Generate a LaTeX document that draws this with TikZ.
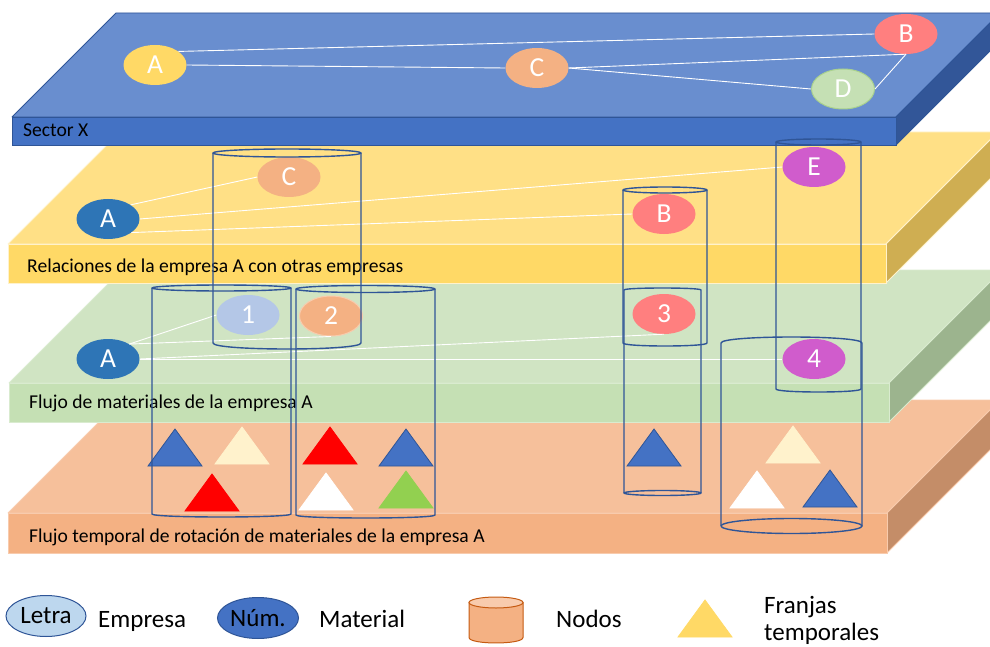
\documentclass[tikz,border=0pt]{standalone}
\usepackage{fontspec}
\setmainfont{Carlito}
\usetikzlibrary{shapes.geometric}

% slab colours
\definecolor{btop}{HTML}{698ECF}
\definecolor{bfront}{HTML}{4472C4}
\definecolor{bside}{HTML}{325698}
\definecolor{bedge}{HTML}{2F5597}
\definecolor{ytop}{HTML}{FFE086}
\definecolor{yfront}{HTML}{FFD966}
\definecolor{yside}{HTML}{CFAE52}
\definecolor{yedge}{HTML}{FFF2CC}
\definecolor{gtop}{HTML}{D0E4C3}
\definecolor{gfront}{HTML}{C5E0B4}
\definecolor{gside}{HTML}{9CB48E}
\definecolor{gedge}{HTML}{D9EBCF}
\definecolor{otop}{HTML}{F6C09B}
\definecolor{ofront}{HTML}{F4B183}
\definecolor{oside}{HTML}{C48D68}
\definecolor{oedge}{HTML}{F8CBAD}
% node colours
\definecolor{nyellow}{HTML}{FFD966}
\definecolor{nred}{HTML}{FF7F7F}
\definecolor{norange}{HTML}{F4B183}
\definecolor{ngreen}{HTML}{C5E0B4}
\definecolor{ngreenedge}{HTML}{A9D18E}
\definecolor{nblue}{HTML}{2E75B6}
\definecolor{nlightblue}{HTML}{B4C7E7}
\definecolor{npurple}{HTML}{D05CCC}
\definecolor{cylline}{HTML}{2F5597}
% triangle colours
\definecolor{tblue}{HTML}{4472C4}
\definecolor{tcream}{HTML}{FFF2CC}
\definecolor{tred}{HTML}{FF0000}
\definecolor{tgreen}{HTML}{92D050}
\definecolor{legfill}{HTML}{BDD7EE}
\definecolor{cylfill}{HTML}{F4B183}
\definecolor{cyltop}{HTML}{F8CBAD}
\definecolor{cyledge}{HTML}{C55A11}

% a slab: x0, x1, front top y, front bottom y, depth, top, front, side, edge colour
\newcommand\slab[9]{%
  \filldraw[fill=#6,draw=#9,line width=0.8pt,line join=round]
    (#1,#3) -- (#2,#3) -- ({#2+#5},{#3-#5}) -- ({#1+#5},{#3-#5}) -- cycle;
  \filldraw[fill=#8,draw=#9,line width=0.8pt,line join=round]
    (#2,#3) -- ({#2+#5},{#3-#5}) -- ({#2+#5},{#4-#5}) -- (#2,#4) -- cycle;
  \filldraw[fill=#7,draw=#9,line width=0.8pt] (#1,#3) rectangle (#2,#4);
}
% open cylinder, full top rim: x0, x1, top y, top ry, bottom y, bottom ry
\newcommand\cylopen[6]{%
  \draw[cyl] ({(#1+#2)/2},#3) ellipse [x radius={(#2-#1)/2*1pt}, y radius=#4pt];
  \draw[cyl] (#1,#3) -- (#1,#5) .. controls (#1,{#5+1.333*#6}) and (#2,{#5+1.333*#6}) .. (#2,#5) -- (#2,#3);
}
% cylinder with full bottom rim and only the back of the top rim
\newcommand\cylbase[6]{%
  \draw[cyl] (#1,#5) -- (#1,#3) .. controls (#1,{#3-1.333*#4}) and (#2,{#3-1.333*#4}) .. (#2,#3) -- (#2,#5);
  \draw[cyl] ({(#1+#2)/2},#5) ellipse [x radius={(#2-#1)/2*1pt}, y radius=#6pt];
}
% time band triangle: centre x, base y, fill, edge
\newcommand\band[4]{%
  \filldraw[fill=#3,draw=#4,line width=0.8pt] ({#1-27},#2) -- ({#1+27},#2) -- (#1,{#2-37}) -- cycle;
}

\begin{document}
\begin{tikzpicture}[x=1pt,y=-1pt,
  firm/.style={ellipse,minimum width=63pt,minimum height=40pt,inner sep=0pt,
    text=white,font=\fontsize{27.5}{27.5}\selectfont},
  link/.style={white,line width=0.9pt},
  cyl/.style={draw=cylline,line width=1.4pt,line join=round},
  layerlabel/.style={anchor=base west,inner sep=0pt,text=black,font=\fontsize{19.6}{22}\selectfont},
  legendtext/.style={anchor=base west,inner sep=0pt,text=black,font=\fontsize{25}{28}\selectfont},
  legendfirm/.style={ellipse,inner sep=0pt,minimum height=41pt,draw=bedge,line width=1pt,
    text=black,font=\fontsize{25}{25}\selectfont}]

\useasboundingbox (0,0) rectangle (990,647);
\clip (0,0) rectangle (990,647);

% layers, bottom to top
\slab{8}{887}{513}{553}{113}{otop}{ofront}{oside}{oedge}
\slab{9}{889}{383}{422}{113}{gtop}{gfront}{gside}{gedge}
\slab{8}{886}{244}{283}{112}{ytop}{yfront}{yside}{yedge}
\slab{12}{896}{117}{145}{104}{btop}{bfront}{bside}{bedge}

\node[layerlabel] (labX) at (23,137) {Sector X};
\node[layerlabel] (labRel) at (27,272) {Relaciones de la empresa A con otras empresas};
\node[layerlabel] (labMat) at (29,408) {Flujo de materiales de la empresa A};
\node[layerlabel] (labTime) at (29,542) {Flujo temporal de rotación de materiales de la empresa A};

% time bands
\band{175}{466}{tblue}{bedge}
\band{242}{464}{tcream}{tcream}
\band{212}{511}{tred}{tred}
\band{330}{464}{tred}{tred}
\band{406}{466}{tblue}{bedge}
\band{326}{510}{white}{white}
\band{406}{508}{tgreen}{tgreen}
\band{654}{466}{tblue}{bedge}
\band{793}{463}{tcream}{tcream}
\band{757}{508}{white}{white}
\band{830}{507}{tblue}{bedge}

% sector level
\node[firm,fill=nyellow] (sA) at (155,65) {A};
\node[firm,fill=nred] (sB) at (906,34) {B};
\node[firm,fill=norange] (sC) at (537,68) {C};
\node[firm,fill=ngreen,draw=ngreenedge,line width=1pt] (sD) at (843,89) {D};

% relations of firm A
\node[firm,fill=nblue] (rA) at (108,219) {A};
\node[firm,fill=norange] (rC) at (289,177) {C};
\node[firm,fill=nred] (rB) at (664,214) {B};
\node[firm,fill=npurple] (rE) at (814,167) {E};

% materials of firm A
\node[firm,fill=nblue] (mA) at (108,359) {A};
\node[firm,fill=nlightblue] (m1) at (248,315) {1};
\node[firm,fill=norange,draw=oedge,line width=1pt] (m2) at (331,316) {2};
\node[firm,fill=nred] (m3) at (664,314) {3};
\node[firm,fill=npurple] (m4) at (814,359) {4};

% links
\draw[link] (sA.30) -- (sB.west);
\draw[link] (sA.east) -- (sC.west);
\draw[link] (sC.east) -- (sB.south);
\draw[link] (sC.east) -- (sD.west);
\draw[link] (sD.east) -- (sB.south);
\draw[link] (rA.32) -- (rC.west);
\draw[link] (rA.east) -- (rE.west);
\draw[link] (rA.-30) -- (rB.west);
\draw[link] (mA.35) -- (m1.west);
\draw[link] (mA.35) -- (m2.south);
\draw[link] (mA.east) -- (m3.south);
\draw[link] (mA.east) -- (m4.west);

% nodes as cylinders
\cylopen{213}{361}{153}{4}{343}{6}
\cylopen{152}{291}{288}{3}{514}{3}
\cylopen{296}{435}{289}{3.5}{515}{3}
\cylopen{623}{707}{190}{3}{343}{3}
\cylbase{624}{701}{290}{2}{493}{2.5}
\cylopen{776}{861}{142}{3}{389}{3}
\cylbase{721}{862}{343}{6}{526}{7.5}

% legend
\node[legendfirm,fill=legfill,minimum width=80pt] (legL) at (46,616) {Letra};
\node[legendtext] (legLt) at (98,627) {Empresa};
\node[legendfirm,fill=tblue,minimum width=81pt] (legN) at (258,618) {Núm.};
\node[legendtext] (legNt) at (319,627) {Material};
\filldraw[fill=cylfill,draw=cyledge,line width=1pt,line join=round]
  (469,602.5) -- (469,637.5) .. controls (469,644.8) and (523,644.8) .. (523,637.5) -- (523,602.5) -- cycle;
\filldraw[fill=cyltop,draw=cyledge,line width=1pt] (496,602.5) ellipse [x radius=27pt, y radius=5.5pt];
\node[legendtext] (legC) at (556,627) {Nodos};
\band{705}{637}{nyellow}{nyellow}
\node[legendtext] (legT1) at (764,613) {Franjas};
\node[legendtext] (legT2) at (764,640) {temporales};
\end{tikzpicture}
\end{document}
